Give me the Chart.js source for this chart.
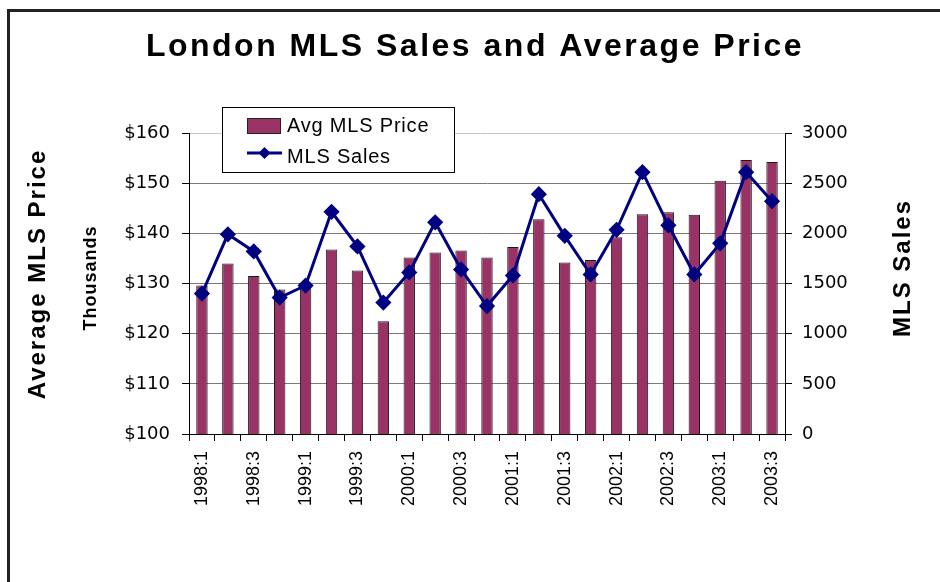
<!DOCTYPE html>
<html>
<head>
<meta charset="utf-8">
<script src="https://cdn.jsdelivr.net/npm/chart.js@4.4.1/dist/chart.umd.min.js"></script>
<style>
  html, body { margin: 0; padding: 0; background: #fff; }
  canvas { display: block; }
</style>
</head>
<body>
<canvas id="mlsChart" width="940" height="582"></canvas>
<script>
// quarters 1998:1 .. 2003:3
const quarters = ['1998:1', '1998:2', '1998:3', '1998:4', '1999:1', '1999:2', '1999:3', '1999:4',
    '2000:1', '2000:2', '2000:3', '2000:4', '2001:1', '2001:2', '2001:3', '2001:4',
    '2002:1', '2002:2', '2002:3', '2002:4', '2003:1', '2003:2', '2003:3'];
// average price, thousands of dollars
const avgPrice = [129.6, 134.0, 131.5, 128.8, 129.3, 136.8, 132.6, 122.5,
    135.2, 136.2, 136.6, 135.2, 137.3, 142.8, 134.2, 134.7,
    139.2, 143.8, 144.2, 143.7, 150.5, 154.6, 154.2];
// number of MLS sales
const mlsSales = [1400, 1990, 1820, 1360, 1480, 2215, 1870, 1310,
    1610, 2110, 1640, 1275, 1580, 2390, 1975, 1590,
    2035, 2610, 2080, 1590, 1900, 2610, 2320];
const priceTicks = { min: 100, max: 160, step: 10 };
const salesTicks = { min: 0, max: 3000, step: 500 };

const maroon = '#993366';
const navy = '#000080';

// title, axis titles, frame and legend box
const decorations = {
    id: 'decorations',
    afterDraw(chart) {
        const ctx = chart.ctx;
        ctx.save();
        // outer frame
        ctx.strokeStyle = '#222';
        ctx.lineWidth = 3;
        ctx.beginPath();
        ctx.moveTo(8.5, 582);
        ctx.lineTo(8.5, 10.5);
        ctx.lineTo(940, 10.5);
        ctx.stroke();

        ctx.fillStyle = '#000';
        ctx.textAlign = 'center';
        ctx.textBaseline = 'alphabetic';
        ctx.font = 'bold 32px "Liberation Sans", Arial, sans-serif';
        ctx.letterSpacing = '2.5px';
        ctx.fillText('London MLS Sales and Average Price', 475, 56);

        function vText(txt, x, y, font, spacing) {
            ctx.save();
            ctx.translate(x, y);
            ctx.rotate(-Math.PI / 2);
            ctx.font = font;
            ctx.letterSpacing = spacing;
            ctx.fillText(txt, 0, 0);
            ctx.restore();
        }
        vText('Average MLS Price', 45, 274, 'bold 24px "Liberation Sans", Arial, sans-serif', '2px');
        vText('Thousands', 96, 278, 'bold 18px "Liberation Sans", Arial, sans-serif', '1px');
        vText('MLS Sales', 910, 268, 'bold 24px "Liberation Sans", Arial, sans-serif', '2px');

        // legend
        const bars = chart.data.datasets.find((d) => d.type !== 'line');
        const line = chart.data.datasets.find((d) => d.type === 'line');
        ctx.fillStyle = '#fff';
        ctx.fillRect(222.5, 107.5, 232, 65);
        ctx.strokeStyle = '#000';
        ctx.lineWidth = 1;
        ctx.strokeRect(222.5, 107.5, 232, 65);

        ctx.fillStyle = bars.backgroundColor;
        ctx.fillRect(247.5, 118.5, 33, 15);
        ctx.strokeStyle = '#222';
        ctx.strokeRect(247.5, 118.5, 33, 15);

        ctx.strokeStyle = line.borderColor;
        ctx.lineWidth = 3;
        ctx.beginPath();
        ctx.moveTo(247, 153);
        ctx.lineTo(282, 153);
        ctx.stroke();
        ctx.fillStyle = line.borderColor;
        ctx.beginPath();
        ctx.moveTo(264.5, 147);
        ctx.lineTo(270.5, 153);
        ctx.lineTo(264.5, 159);
        ctx.lineTo(258.5, 153);
        ctx.closePath();
        ctx.fill();

        ctx.fillStyle = '#000';
        ctx.textAlign = 'left';
        ctx.font = '20px "Liberation Sans", Arial, sans-serif';
        ctx.letterSpacing = '0.8px';
        ctx.fillText(bars.label, 287, 132);
        ctx.fillText(line.label, 287, 163);
        ctx.restore();
    }
};

const ctx = document.getElementById('mlsChart').getContext('2d');
new Chart(ctx, {
    type: 'bar',
    data: {
        labels: quarters,
        datasets: [{
            type: 'line',
            label: 'MLS Sales',
            data: mlsSales,
            yAxisID: 'ySales',
            borderColor: navy,
            backgroundColor: navy,
            borderWidth: 3,
            pointStyle: 'rectRot',
            pointRadius: 6,
            pointBackgroundColor: navy,
            pointBorderColor: navy,
            tension: 0,
            order: 1
        }, {
            type: 'bar',
            label: 'Avg MLS Price',
            data: avgPrice,
            yAxisID: 'yPrice',
            backgroundColor: maroon,
            borderColor: '#1a1a1a',
            borderWidth: 1,
            barPercentage: 0.44,
            categoryPercentage: 1,
            order: 2
        }]
    },
    options: {
        responsive: false,
        animation: false,
        devicePixelRatio: 1,
        layout: { padding: { top: 133, left: 0, right: 0, bottom: 0 } },
        plugins: {
            legend: { display: false },
            title: { display: false },
            tooltip: { enabled: false }
        },
        scales: {
            x: {
                offset: true,
                grid: { offset: true, drawOnChartArea: false, color: '#000', tickLength: 7 },
                border: { color: '#000' },
                ticks: {
                    autoSkip: false,
                    minRotation: 90,
                    maxRotation: 90,
                    padding: 10,
                    color: '#000',
                    font: { family: '"Liberation Sans", Arial, sans-serif', size: 18 },
                    callback: (v, i) => (i % 2 === 0 ? quarters[i] : '')
                },
                afterFit: (s) => { s.height = 148; }
            },
            yPrice: {
                position: 'left',
                min: priceTicks.min,
                max: priceTicks.max,
                grid: {
                    color: (c) => (c.tick && c.tick.value === priceTicks.max ? '#c8c8c8' : '#7a7a7a'),
                    tickColor: '#000',
                    tickLength: 7
                },
                border: { color: '#000' },
                ticks: {
                    stepSize: priceTicks.step,
                    padding: 12,
                    color: '#000',
                    font: { family: '"DejaVu Sans", sans-serif', size: 18 },
                    callback: (v) => '$' + v
                },
                afterFit: (s) => { s.width = 189; }
            },
            ySales: {
                position: 'right',
                min: salesTicks.min,
                max: salesTicks.max,
                grid: { drawOnChartArea: false, color: '#000', tickLength: 7 },
                border: { color: '#000' },
                ticks: {
                    stepSize: salesTicks.step,
                    padding: 10,
                    color: '#000',
                    font: { family: '"DejaVu Sans", sans-serif', size: 18 },
                    callback: (v) => String(v)
                },
                afterFit: (s) => { s.width = 155; }
            }
        }
    },
    plugins: [decorations]
});
</script>
</body>
</html>
